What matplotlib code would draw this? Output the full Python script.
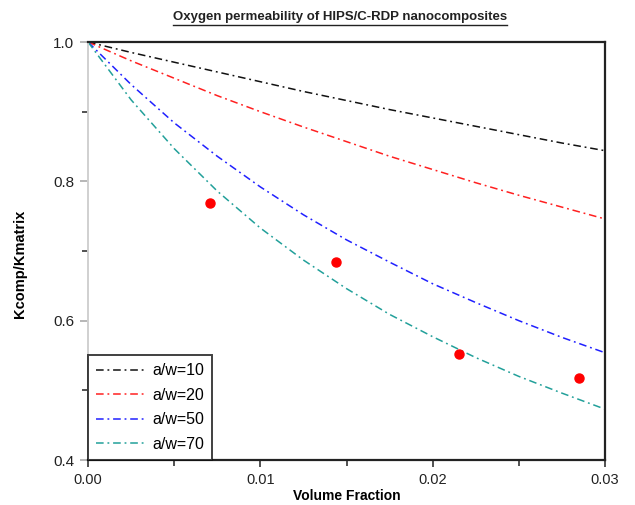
import matplotlib
matplotlib.use("Agg")
import matplotlib.pyplot as plt
from matplotlib.ticker import MultipleLocator, FormatStrFormatter
from matplotlib.lines import Line2D

plt.rcParams['font.family'] = ['Liberation Sans', 'DejaVu Sans']

# Data
phi = [0.0, 0.0025, 0.005, 0.0075, 0.01, 0.0125, 0.015, 0.0175, 0.02,
       0.0225, 0.025, 0.0275, 0.03]
aw10 = [1.000, 0.985, 0.971, 0.957, 0.943, 0.929, 0.916, 0.903, 0.891,
        0.879, 0.867, 0.855, 0.844]
aw20 = [1.000, 0.973, 0.948, 0.923, 0.900, 0.878, 0.857, 0.836, 0.817,
        0.798, 0.780, 0.763, 0.746]
aw50 = [1.000, 0.939, 0.884, 0.836, 0.792, 0.752, 0.716, 0.684, 0.653,
        0.626, 0.600, 0.576, 0.554]
aw70 = [1.000, 0.917, 0.847, 0.786, 0.733, 0.687, 0.646, 0.609, 0.577,
        0.547, 0.520, 0.496, 0.473]
exp_x = [0.0071, 0.0144, 0.0215, 0.0285]
exp_y = [0.769, 0.684, 0.552, 0.518]

series = [("a/w=10", aw10, "#111111"),
          ("a/w=20", aw20, "#ff2020"),
          ("a/w=50", aw50, "#2020ff"),
          ("a/w=70", aw70, "#22a09a")]

fig = plt.figure(figsize=(6.35, 5.05), dpi=100)
ax = fig.add_axes([88/635, 45/505, 517/635, 418/505])

ls = (0, (5, 2.5, 1.2, 2.5))
for label, ys, c in series:
    ax.plot(phi, ys, color=c, lw=1.1, linestyle=ls, label=label)

ax.plot(exp_x, exp_y, 'o', color='red', ms=6.5, mec='red', zorder=5)

ax.set_xlim(0, 0.03)
ax.set_ylim(0.4, 1.0)
ax.xaxis.set_major_locator(MultipleLocator(0.01))
ax.xaxis.set_minor_locator(MultipleLocator(0.005))
ax.yaxis.set_major_locator(MultipleLocator(0.2))
ax.yaxis.set_minor_locator(MultipleLocator(0.1))
ax.xaxis.set_major_formatter(FormatStrFormatter('%.2f'))
ax.yaxis.set_major_formatter(FormatStrFormatter('%.1f'))

for s in ['top', 'right', 'bottom']:
    ax.spines[s].set_color('#222222')
    ax.spines[s].set_linewidth(1.6)
ax.spines['left'].set_color('#d0d0d0')
ax.spines['left'].set_linewidth(1.4)

ax.tick_params(axis='x', which='major', length=5, width=1.2, color='#333333',
               labelsize=10.5, labelcolor='#222222', pad=4)
ax.tick_params(axis='x', which='minor', length=4, width=1.2, color='#333333')
ax.tick_params(axis='y', which='major', length=6, width=1.2, color='#aaaaaa',
               labelsize=11, labelcolor='#222222', pad=4)
ax.tick_params(axis='y', which='minor', length=4, width=1.2, color='#333333')

ax.set_xlabel("Volume Fraction", fontsize=10, fontweight='bold', labelpad=2)
ax.set_ylabel("Kcomp/Kmatrix", fontsize=10.5, fontweight='bold')
ax.yaxis.set_label_coords(-0.118, 0.47)

leg = ax.legend(loc='lower left', borderaxespad=0, fontsize=11.5,
                handlelength=3.0, handletextpad=0.5, labelspacing=0.6,
                frameon=True, fancybox=False, borderpad=0.5)
leg.get_frame().set_edgecolor('#111111')
leg.get_frame().set_linewidth(1.4)

title = fig.text(340/635, 1 - 17/505, "Oxygen permeability of HIPS/C-RDP nanocomposites",
                 ha='center', va='center', fontsize=9.5, fontweight='bold',
                 color='#222222')
fig.canvas.draw()
bb = title.get_window_extent().transformed(fig.transFigure.inverted())
fig.add_artist(Line2D([bb.x0, bb.x1], [bb.y0 - 0.003, bb.y0 - 0.003],
                      transform=fig.transFigure, color='#222222', lw=1.0))

fig.savefig("out.png", dpi=100)
